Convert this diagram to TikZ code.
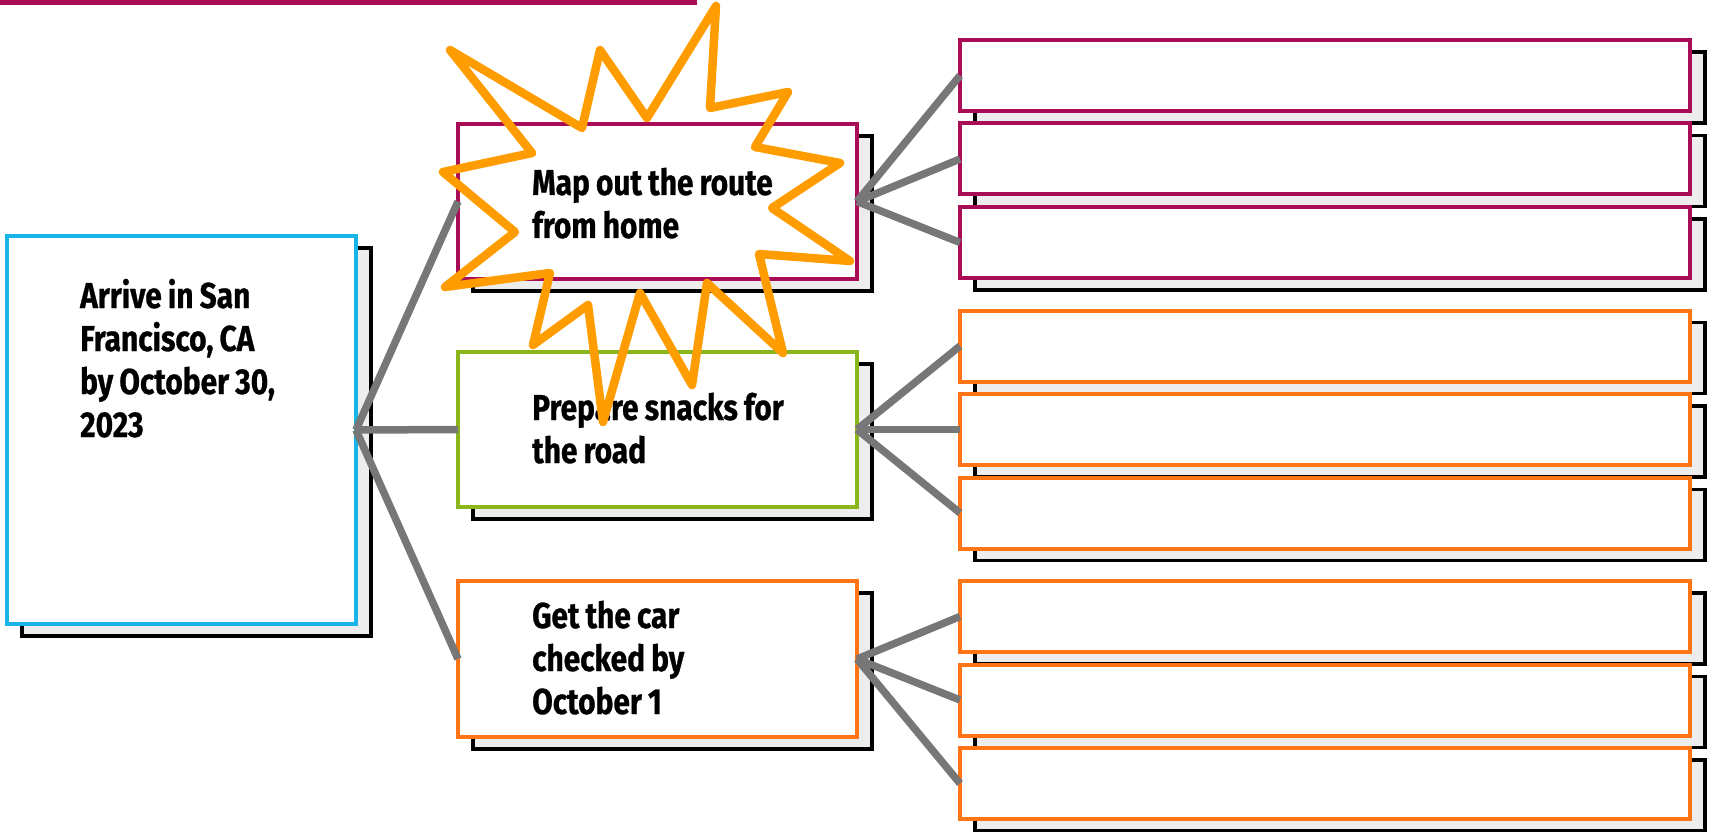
\documentclass[tikz,border=0pt]{standalone}
\usepackage{fontspec}
\usetikzlibrary{shadows}
\newfontfamily\lblfont{Fira Sans}[FakeStretch=0.83, FakeBold=0.7]
\definecolor{berry}{RGB}{168,13,85}
\definecolor{sky}{RGB}{24,180,232}
\definecolor{olive}{RGB}{138,181,27}
\definecolor{tangerine}{RGB}{255,116,21}
\definecolor{burst}{RGB}{255,156,0}
\definecolor{linkgray}{RGB}{119,119,119}
\definecolor{shadowgray}{RGB}{237,237,237}
\begin{document}
\begin{tikzpicture}[x=1pt,y=-1pt,
  panel/.style={rectangle, draw, line width=4pt, fill=white, inner sep=0pt,
    outer sep=0pt, anchor=north west,
    copy shadow={shadow xshift=15pt, shadow yshift=-12pt, fill=shadowgray,
      draw=black, line width=3.6pt}},
  goalbox/.style={panel, draw=sky, minimum width=349pt, minimum height=388pt},
  stepbox/.style={panel, minimum width=399pt, minimum height=155pt},
  taskbox/.style={panel, minimum width=730pt, minimum height=71pt},
  lbl/.style={font=\lblfont\bfseries\fontsize{36}{43}\selectfont,
    execute at begin node={\spaceskip=0.17em plus 0.05em\relax},
    text width=330pt, inner sep=0pt, anchor=base west},
  link/.style={draw=linkgray, line width=7.5pt}]
\useasboundingbox (0,0) rectangle (1709,832);

% edge of the title band above
\fill[berry] (0,0) rectangle (697,5);

% goal
\node[goalbox] (goal) at (7,236) {};
\node[lbl] (goal-text) at (80,308) {Arrive in San\\Francisco, CA\\by October 30,\\2023};

% steps
\node[stepbox, draw=berry] (route) at (458,124) {};
\node[stepbox, draw=olive] (snacks) at (458,352) {};
\node[stepbox, draw=tangerine, minimum height=156pt] (car) at (458,581) {};

% tasks for each step
\foreach \i/\y in {1/40, 2/123.5, 3/207}
  \node[taskbox, draw=berry] (route-\i) at (960,\y) {};
\foreach \i/\y in {1/310.5, 2/394, 3/477.5}
  \node[taskbox, draw=tangerine] (snacks-\i) at (960,\y) {};
\foreach \i/\y in {1/581, 2/664.5, 3/748}
  \node[taskbox, draw=tangerine] (car-\i) at (960,\y) {};

% connectors
\foreach \s in {route, snacks, car}{
  \draw[link] (goal.east) -- (\s.west);
  \foreach \i in {1,2,3}
    \draw[link] (\s.east) -- (\s-\i.west);
}

% step labels
\node[lbl] (snacks-text) at (532,420) {Prepare snacks for\\the road};
\node[lbl] (car-text) at (532,628) {Get the car\\checked by\\October 1};
\node[lbl] (route-text) at (532,195) {Map out the route\\from home};

% highlight burst around the first step
\draw[burst, line width=8.5pt, line join=round]
  (716,6) -- (710,108) -- (788,92) -- (755,147) -- (840,163) -- (772,208)
  -- (850,261) -- (759,254) -- (783,353) -- (707,283) -- (692,385)
  -- (640,293) -- (603,422) -- (588,305) -- (533,345) -- (550,273)
  -- (445,287) -- (515,232) -- (443,172) -- (532,153) -- (450,50)
  -- (582,128) -- (600,50) -- (647,118) -- cycle;
\end{tikzpicture}
\end{document}
